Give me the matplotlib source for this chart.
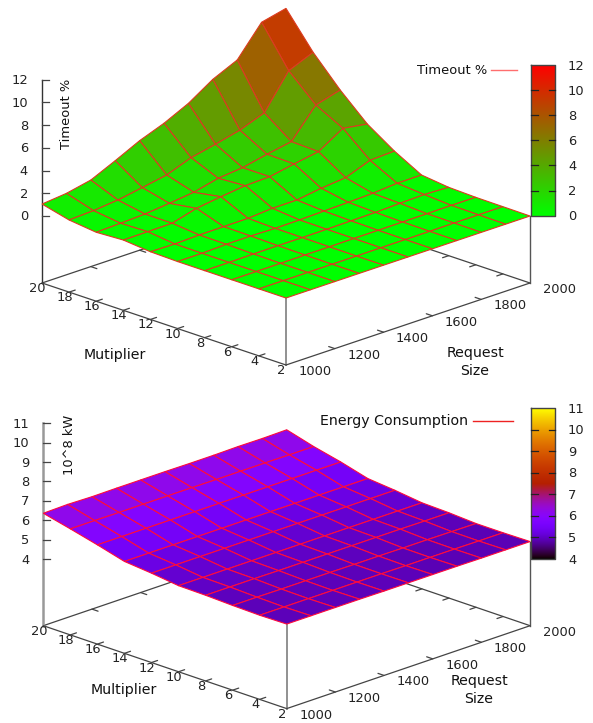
import numpy as np
import matplotlib
matplotlib.use("Agg")
import matplotlib.pyplot as plt
from matplotlib.patches import Polygon
from matplotlib.colors import LinearSegmentedColormap, ListedColormap, Normalize

multipliers = [20, 18, 16, 14, 12, 10, 8, 6, 4, 2]
request_sizes = [1000, 1100, 1200, 1300, 1400, 1500, 1600, 1700, 1800, 1900, 2000]
multiplier_ticks = [20, 18, 16, 14, 12, 10, 8, 6, 4, 2]
request_ticks = [1000, 1200, 1400, 1600, 1800, 2000]

timeout_pct = [
    [1.05, 1.27, 1.72, 2.70, 3.74, 4.55, 5.58, 6.97, 7.95, 10.55, 11.05],
    [0.45, 0.55, 0.76, 1.13, 1.52, 2.32, 2.78, 3.30, 4.10, 7.09, 7.99],
    [0.17, 0.24, 0.33, 0.55, 0.80, 1.31, 1.52, 1.98, 2.37, 4.87, 5.47],
    [0.29, 0.30, 0.32, 0.91, 1.21, 1.46, 1.53, 1.93, 2.29, 3.62, 3.28],
    [0.06, 0.02, 0.09, 0.10, 0.11, 0.27, 0.28, 0.59, 0.80, 1.61, 1.70],
    [0.00, 0.00, 0.07, 0.08, 0.03, 0.05, 0.11, 0.16, 0.23, 0.39, 0.40],
    [0.00, 0.00, 0.02, 0.03, 0.02, 0.03, 0.05, 0.07, 0.15, 0.20, 0.12],
    [0.00, 0.00, 0.00, 0.01, 0.01, 0.02, 0.02, 0.03, 0.04, 0.05, 0.04],
    [0.00, 0.00, 0.00, 0.00, 0.00, 0.01, 0.01, 0.01, 0.02, 0.02, 0.02],
    [0.00, 0.00, 0.00, 0.00, 0.00, 0.00, 0.00, 0.00, 0.00, 0.00, 0.00],
]
energy = [
    [6.36, 6.39, 6.36, 6.37, 6.37, 6.37, 6.36, 6.36, 6.38, 6.37, 6.39],
    [6.03, 6.03, 6.02, 6.02, 6.02, 6.02, 6.01, 6.01, 6.01, 6.00, 6.00],
    [5.68, 5.68, 5.68, 5.68, 5.68, 5.68, 5.68, 5.68, 5.68, 5.68, 5.68],
    [5.30, 5.30, 5.30, 5.30, 5.30, 5.30, 5.30, 5.30, 5.30, 5.30, 5.30],
    [5.17, 5.17, 5.17, 5.17, 5.17, 5.17, 5.17, 5.17, 5.17, 5.17, 5.17],
    [5.00, 5.00, 5.00, 5.00, 5.00, 5.00, 5.00, 5.00, 5.00, 5.00, 5.00],
    [4.98, 4.98, 4.98, 4.97, 4.97, 4.97, 4.97, 4.97, 4.97, 4.96, 4.96],
    [4.93, 4.93, 4.92, 4.92, 4.92, 4.91, 4.91, 4.90, 4.90, 4.89, 4.88],
    [4.90, 4.90, 4.90, 4.90, 4.90, 4.90, 4.89, 4.89, 4.89, 4.88, 4.88],
    [4.92, 4.92, 4.92, 4.92, 4.91, 4.91, 4.91, 4.91, 4.90, 4.90, 4.90],
]

W, H = 593, 723
fig = plt.figure(figsize=(W / 100, H / 100), dpi=100)
ax = fig.add_axes([0, 0, 1, 1])
ax.set_xlim(0, W)
ax.set_ylim(H, 0)
ax.axis("off")
TXT = "#222222"

green_red = LinearSegmentedColormap.from_list("gr", ["#00ff00", "#ff0000"], N=256)
g = np.linspace(0, 1, 256)
pm3d_default = ListedColormap(np.c_[np.sqrt(g), g ** 3, np.clip(np.sin(2 * np.pi * g), 0, 1)])


def panel(Z, zmin, zmax, cmap, geo, labels):
    Z = np.array(Z)
    m = np.array(multipliers, float)
    r = np.array(request_sizes, float)
    norm = Normalize(zmin, zmax)

    def proj(mm, rr, zz):
        u = (np.asarray(rr, float) - 1000) / 1000
        v = (20 - np.asarray(mm, float)) / 18
        x = geo["x0"] + geo["dx"] * u + geo["dx"] * v
        y = geo["y0"] - geo["dy"] * u + geo["dy"] * v - (np.asarray(zz, float) - zmin) * geo["zs"]
        return x, y

    lift = zmin - geo["lift"] / geo["zs"]   # base plane level in z units

    # rear floor edges + ticks
    rear = dict(color="#444444", lw=0.9, zorder=1, solid_capstyle="round")
    ax.plot(*proj([20, 20], [1000, 2000], [lift, lift]), **rear)
    ax.plot(*proj([2, 20], [2000, 2000], [lift, lift]), **rear)
    for t in request_ticks[1:-1]:
        ax.plot(*proj([20, 19.55], [t, t], [lift, lift]), **rear)
    for t in multiplier_ticks[1:-1]:
        ax.plot(*proj([t, t], [2000, 1975], [lift, lift]), **rear)

    # surface, painted back to front
    MM, RR = np.meshgrid(m, r, indexing="ij")
    xx, yy = proj(MM, RR, Z)
    cells = [(i - j, i, j) for i in range(len(m) - 1) for j in range(len(r) - 1)]
    for n, (_, i, j) in enumerate(sorted(cells)):
        corners = [(xx[i, j], yy[i, j]), (xx[i, j + 1], yy[i, j + 1]),
                   (xx[i + 1, j + 1], yy[i + 1, j + 1]), (xx[i + 1, j], yy[i + 1, j])]
        ax.add_patch(Polygon(corners, closed=True, facecolor=cmap(norm(Z[i:i + 2, j:j + 2].mean())),
                             edgecolor=geo["edge"], linewidth=geo["elw"], zorder=3 + n * 1e-3))

    # front floor edges + ticks
    front = dict(color="#444444", lw=0.9, zorder=4, solid_capstyle="round")
    ax.plot(*proj([20, 2], [1000, 1000], [lift, lift]), **front)
    ax.plot(*proj([2, 2], [1000, 2000], [lift, lift]), **front)
    for t in multiplier_ticks[1:-1]:
        ax.plot(*proj([t, t], [1000, 1025], [lift, lift]), **front)
    for t in request_ticks[1:-1]:
        ax.plot(*proj([2, 2.45], [t, t], [lift, lift]), **front)

    # verticals
    ax.plot(*proj([2, 2], [1000, 1000], [lift, Z[-1, 0]]), color="#888888", lw=1.3, zorder=2)
    ax.plot(*proj([2, 2], [2000, 2000], [lift, Z[-1, -1]]), color="#555555", lw=1.0, zorder=2)
    # z axis
    ax.plot(*proj([20, 20], [1000, 1000], [lift, zmax]), color=geo["zc"], lw=geo["zlw"], zorder=2)
    for t in geo["zticks"]:
        xa, ya = proj(20, 1000, t)
        ax.plot([xa, xa + 7], [ya, ya], color="#444444", lw=0.9, zorder=2)
        ax.text(xa - 14, ya + 1, str(t), ha="right", va="center", fontsize=9.4, color=TXT)

    # floor tick labels
    for t in multiplier_ticks:
        xa, ya = proj(t, 1000, lift)
        ax.text(xa - 4.5, ya + 5.5, str(t), ha="center", va="center", fontsize=9.4, color=TXT)
    for t in request_ticks:
        xa, ya = proj(2, t, lift)
        ax.text(xa + 29, ya + 6.5, str(t), ha="center", va="center", fontsize=9.4, color=TXT)

    # colour bar
    cx0, cx1, cy0, cy1 = geo["cbar"]
    ax.imshow(np.linspace(1, 0, 256)[:, None], extent=(cx0, cx1, cy1, cy0), aspect="auto",
              cmap=cmap, vmin=0, vmax=1, zorder=2)
    ax.set_xlim(0, W)
    ax.set_ylim(H, 0)
    ax.plot([cx0, cx1, cx1, cx0, cx0], [cy0, cy0, cy1, cy1, cy0], color="#444444", lw=1.0, zorder=3)
    for t in geo["zticks"]:
        yy_t = cy1 + (cy0 - cy1) * (t - zmin) / (zmax - zmin)
        if t not in (zmin, zmax):
            ax.plot([cx0, cx0 + 6.5], [yy_t, yy_t], color="#222222", lw=0.9, zorder=3)
            ax.plot([cx1 - 6.5, cx1], [yy_t, yy_t], color="#222222", lw=0.9, zorder=3)
        ax.text(568, yy_t + 1, str(t), ha="left", va="center", fontsize=9.4, color=TXT)

    # labels
    for txt, x, y, rot, fs in labels:
        ax.text(x, y, txt, rotation=rot, ha="center", va="center", fontsize=fs, color="#111111")
    lx0, lx1, ly = geo["leg"]
    ax.plot([lx0, lx1], [ly, ly], color=geo["legc"], lw=1.0, zorder=2)


panel(timeout_pct, 0, 12, green_red,
      dict(x0=42, y0=216, dx=244, dy=82, zs=11.37, lift=67, edge="#dd3a20", elw=0.8,
           zc="#333333", zlw=1.0, zticks=[0, 2, 4, 6, 8, 10, 12],
           cbar=(531.3, 555, 65, 215.7), leg=(491, 517.3, 70), legc="#ff6e6e"),
      [("Timeout %", 66, 114, 90, 9.4), ("Mutiplier", 114.7, 354.7, 0, 10.2),
       ("Request", 475, 353, 0, 10.2), ("Size", 475, 370.7, 0, 10.2),
       ("Timeout %", 452, 70, 0, 9.4)])

panel(energy, 4, 11, pm3d_default,
      dict(x0=43.3, y0=559, dx=243.4, dy=82.9, zs=19.38, lift=66.7, edge="#ff0a3c", elw=0.8,
           zc="#999999", zlw=1.8, zticks=[4, 5, 6, 7, 8, 9, 10, 11],
           cbar=(531.3, 555.3, 408.3, 559), leg=(473.3, 512.7, 421.3), legc="#ee2222"),
      [("10^8 kW", 69.5, 445, 90, 9.4), ("Multiplier", 124, 690, 0, 10.2),
       ("Request", 479, 681, 0, 10.2), ("Size", 479, 699.3, 0, 10.2),
       ("Energy Consumption", 394, 421.5, 0, 10.2)])

fig.savefig("out.png", dpi=100)
